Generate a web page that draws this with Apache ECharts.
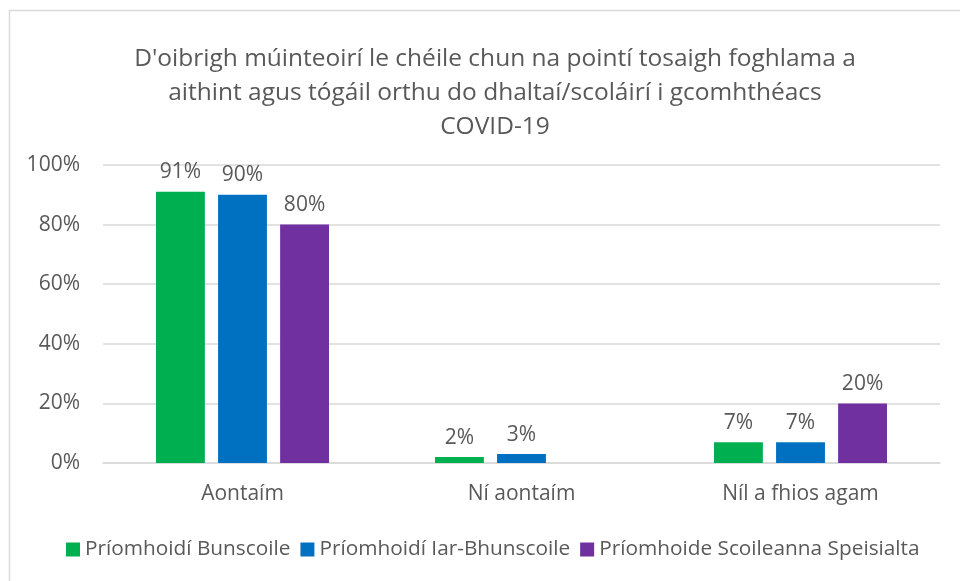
<!DOCTYPE html>
<html><head><meta charset="utf-8">
<script src="https://cdn.jsdelivr.net/npm/echarts@6/dist/echarts.min.js"></script>
<style>html,body{margin:0;padding:0;background:#fff}#c{width:960px;height:581px}</style>
</head><body><div id="c"></div>
<script>
const titleText = "D'oibrigh múinteoirí le chéile chun na pointí tosaigh foghlama a\naithint agus tógáil orthu do dhaltaí/scoláirí i gcomhthéacs\nCOVID-19";
const categories = ["Aontaím", "Ní aontaím", "Níl a fhios agam"];
const seriesNames = ["Príomhoidí Bunscoile", "Príomhoidí Iar-Bhunscoile", "Príomhoide Scoileanna Speisialta"];
const bunscoile = [91, 2, 7];
const iarBhunscoile = [90, 3, 7];
const speisialta = [80, null, 20];
const colors = ["#00B050", "#0070C0", "#7030A0"];
const FONT = "Open Sans";
const TXT = "#595959";

const chart = echarts.init(document.getElementById('c'), null, {renderer: 'canvas'});
function mk(name, data, color) {
  return {
    name, type: 'bar', data,
    itemStyle: {color},
    barGap: '27%', barCategoryGap: '38%',
    label: {show: true, position: 'top', distance: 9, formatter: p => p.value == null ? '' : p.value + '%',
      color: TXT, fontFamily: FONT, fontSize: 21}
  };
}
chart.setOption({
  animation: false,
  graphic: [{type: 'rect', shape: {x: 9.5, y: 10.5, width: 1000, height: 1000}, style: {fill: null, stroke: '#d9d9d9', lineWidth: 1.5}, silent: true}],
  title: {text: titleText, left: 490, top: 37, textAlign: 'center',
    textStyle: {fontFamily: FONT, fontSize: 24.5, fontWeight: 'normal', color: TXT, lineHeight: 34}},
  legend: {bottom: 16, left: 61, itemWidth: 14, itemHeight: 14, itemGap: 10, icon: 'rect',
    textStyle: {fontFamily: FONT, fontSize: 20.8, color: TXT}, data: seriesNames},
  grid: {left: 103, right: 20, top: 165, bottom: 118, containLabel: false},
  xAxis: {type: 'category', data: categories,
    axisLine: {lineStyle: {color: '#d9d9d9', width: 1.5}}, axisTick: {show: false},
    axisLabel: {color: TXT, fontFamily: FONT, fontSize: 21, margin: 21}},
  yAxis: {type: 'value', min: 0, max: 100, interval: 20,
    axisLabel: {formatter: '{value}%', color: TXT, fontFamily: FONT, fontSize: 21, margin: 23},
    splitLine: {lineStyle: {color: '#d9d9d9', width: 1.5}}, axisLine: {show: false}},
  series: [mk(seriesNames[0], bunscoile, colors[0]), mk(seriesNames[1], iarBhunscoile, colors[1]), mk(seriesNames[2], speisialta, colors[2])]
});
</script></body></html>
